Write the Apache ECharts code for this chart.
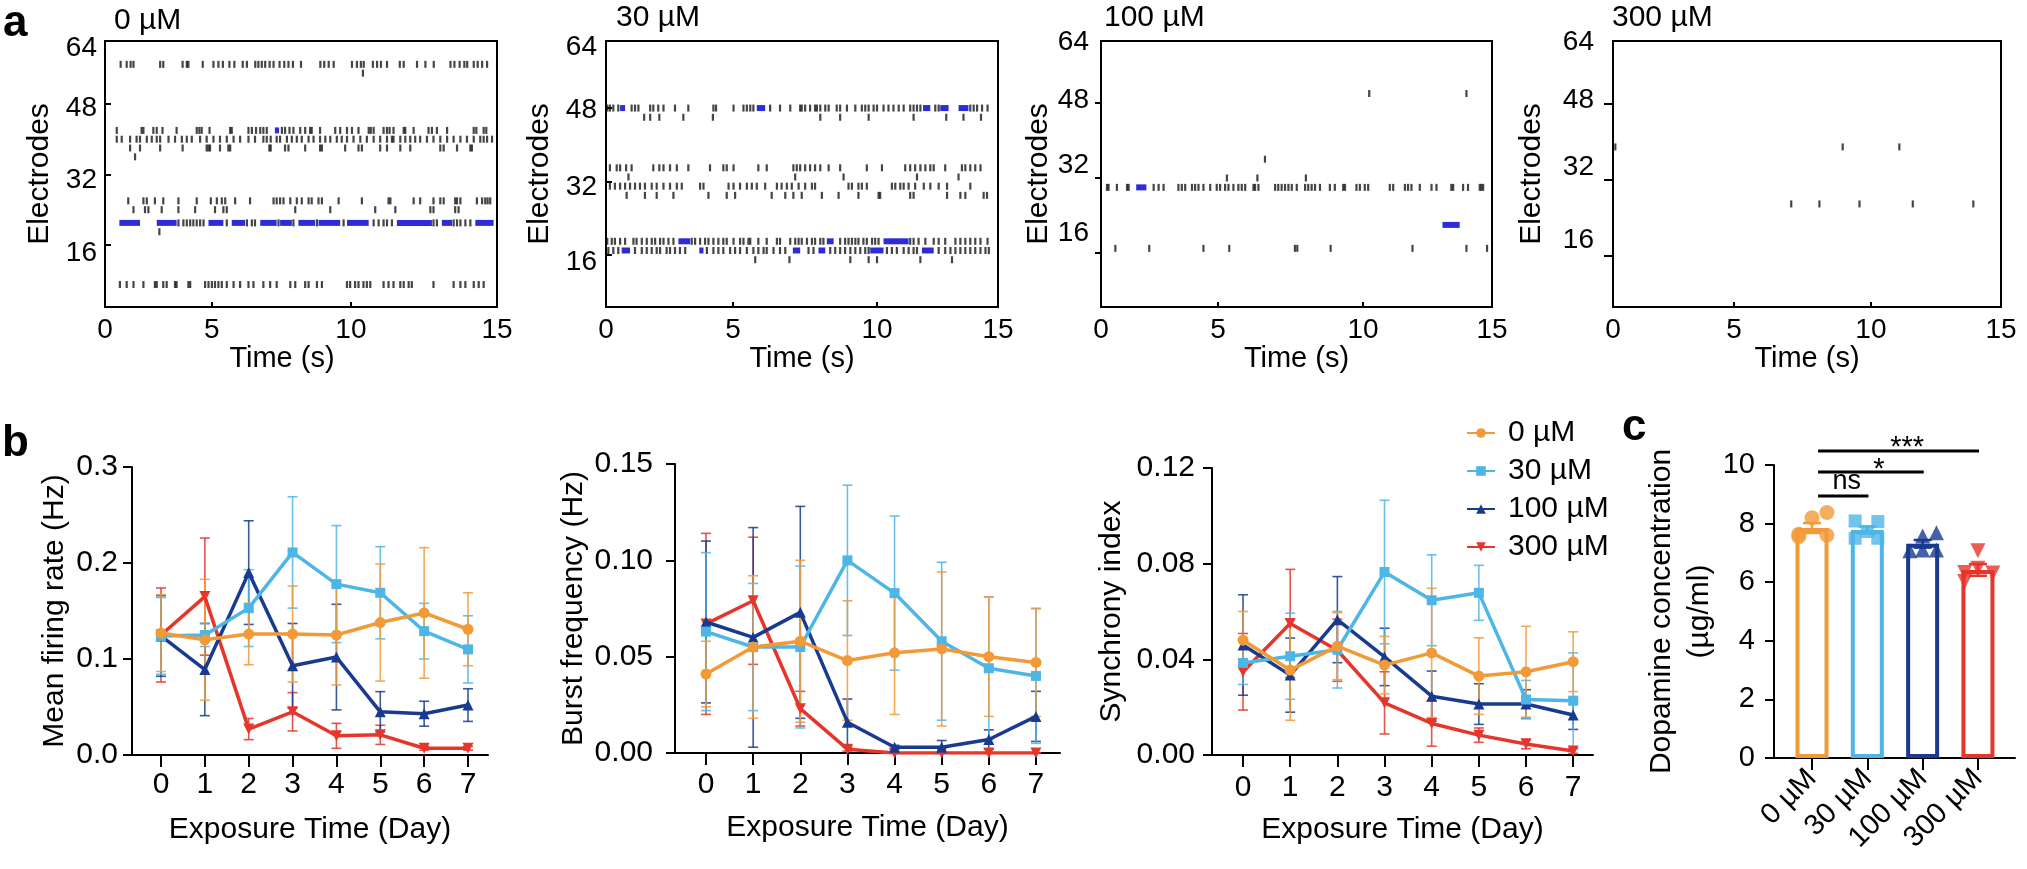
<!DOCTYPE html>
<html><head><meta charset="utf-8">
<script src="https://cdn.jsdelivr.net/npm/echarts@6/dist/echarts.min.js"></script>
<style>html,body{margin:0;padding:0;background:#fff}#c{width:2027px;height:869px}</style>
</head><body><div id="c"></div>
<script>
// ---------------- DATA ----------------
const groups = ['0 µM', '30 µM', '100 µM', '300 µM'];
const days = [0, 1, 2, 3, 4, 5, 6, 7];
const rasterTimeLabels = ['0', '5', '10', '15'];
const electrodeTicks = [16, 32, 48];
const electrodeTickLabels = ['16', '32', '48', '64'];

// Panel a: spike times (s) per electrode row; bursts as [start, end]
// 0 µM
const a0_e57 = [0.60,0.83,0.98,1.09,2.11,2.23,2.97,3.13,3.19,3.74,4.15,4.34,4.51,4.76,4.95,5.27,5.43,5.75,5.87,6.00,6.13,6.30,6.45,6.68,6.86,7.02,7.19,7.50,8.24,8.39,8.56,8.75,9.45,9.64,9.79,9.90,10.25,10.41,10.56,10.79,11.28,11.43,11.94,12.26,12.58,13.22,13.37,13.57,13.75,13.86,14.11,14.26,14.43,14.62];
const a0_e55 = [9.87];
const a0_e42 = [0.45,1.40,1.47,1.85,1.98,2.20,2.74,3.51,3.61,3.70,4.00,4.79,4.85,5.49,5.62,5.78,5.94,6.06,6.19,6.77,6.89,7.06,7.21,7.47,7.66,7.85,7.91,8.23,8.81,9.00,9.26,9.45,9.70,10.09,10.17,10.28,10.66,10.79,10.89,11.04,11.43,11.49,11.81,12.38,12.51,12.70,13.09,14.11,14.21,14.49,14.59];
const a0_e42_burst = [[6.50, 6.66]];
const a0_e40 = [0.45,0.64,0.96,1.21,1.34,1.60,1.79,1.98,2.11,2.43,2.68,2.94,3.13,3.32,3.64,3.89,4.15,4.40,4.66,4.92,5.17,5.49,5.74,6.06,6.19,6.34,6.57,6.70,6.96,7.15,7.34,7.53,7.79,7.98,8.23,8.43,8.62,8.87,9.06,9.26,9.51,9.77,10.02,10.28,10.53,10.79,10.98,11.04,11.30,11.49,11.68,11.87,12.06,12.32,12.57,12.83,13.09,13.34,13.60,13.85,14.11,14.36,14.49,14.62,14.81];
const a0_e38 = [0.96,1.34,2.11,2.97,3.89,3.96,4.02,4.40,4.72,4.79,6.29,6.34,6.89,7.02,7.66,8.23,8.30,9.19,9.70,9.83,10.53,10.79,11.30,11.68,12.83,12.96,13.47,13.98,14.04];
const a0_e36 = [1.15];
const a0_e26 = [0.89,1.47,1.60,1.91,2.23,2.81,3.51,4.05,4.28,4.47,4.60,4.98,5.55,6.45,6.57,6.70,6.83,7.09,7.34,7.53,7.79,7.91,8.17,8.30,8.94,9.83,10.85,10.92,11.81,12.06,12.57,12.83,12.96,13.40,13.47,13.60,14.23,14.43,14.55,14.64,14.74];
const a0_e24 = [1.09,1.53,1.66,2.17,2.81,3.45,4.21,4.53,4.66,7.28,8.62,10.34,11.11,12.45,12.57,13.40,13.53];
const a0_e21 = [2.81,3.00,3.13,3.26,3.38,3.51,3.64,3.77,4.66,5.43,5.62,5.74,6.64,7.21,8.11,9.13,10.28,10.47,10.66,10.79,10.98,12.57,12.70,13.34,13.47,13.60,13.79,13.98];
const a0_e21_burst = [[0.55,1.34],[1.98,2.74],[3.96,4.53],[4.85,5.36],[5.94,6.57],[6.70,7.15],[7.40,8.04],[8.17,9.00],[9.26,10.09],[11.17,12.51],[12.89,13.28],[14.17,14.87]];
const a0_e19 = [2.08];
const a0_e7 = [0.57,0.83,1.09,1.47,1.91,1.98,2.23,2.36,2.68,2.74,3.19,3.26,3.83,3.96,4.09,4.21,4.34,4.47,4.66,4.92,5.17,5.49,5.68,6.06,6.32,6.57,7.09,7.28,7.66,7.79,8.11,8.30,9.26,9.38,9.57,9.70,9.89,10.02,10.15,10.66,10.85,11.04,11.30,11.43,11.62,11.74,12.57,13.34,13.60,13.79,14.11,14.30,14.49];

// 30 µM
const a1_e48 = [0.05,0.15,0.28,0.47,0.98,1.11,1.24,1.69,1.81,2.00,2.20,2.64,3.15,4.11,4.21,4.88,5.26,5.39,5.52,5.64,6.28,6.66,7.05,7.43,7.49,7.62,7.81,8.00,8.07,8.20,8.39,8.52,8.83,8.96,9.22,9.54,9.79,9.92,10.05,10.24,10.37,10.62,10.81,11.00,11.20,11.39,11.64,11.77,11.90,12.03,12.60,12.73,13.94,14.07,14.20,14.39,14.60];
const a1_e48_burst = [[0.54,0.73],[5.77,6.09],[12.13,12.41],[12.79,13.11],[13.49,13.87]];
const a1_e46 = [1.46,1.69,2.04,2.96,4.09,8.20,8.96,10.05,11.77,13.02,13.68,14.35];
const a1_e35 = [0.15,0.41,0.54,0.77,0.98,1.81,2.04,2.20,2.45,2.71,3.15,3.98,4.49,4.62,4.88,5.83,6.15,7.17,7.30,7.43,7.62,7.81,8.00,8.20,8.52,8.96,9.98,10.56,11.45,11.64,11.83,12.03,12.22,12.41,12.54,12.98,13.62,13.75,13.94,14.13,14.33];
const a1_e33 = [0.86,7.24,9.09,11.90,13.49];
const a1_e31 = [0.15,0.34,0.54,0.73,0.92,1.11,1.30,1.49,1.75,1.94,2.20,2.45,2.71,2.90,3.60,3.73,4.69,4.88,5.13,5.39,5.58,5.77,6.09,6.54,6.72,6.92,7.11,7.37,7.62,7.88,8.00,9.28,9.41,9.66,9.79,9.98,10.94,11.07,11.26,11.39,11.58,11.83,12.16,12.41,12.73,13.05,13.94];
const a1_e29 = [0.79,1.49,1.94,2.58,3.92,4.62,4.94,6.34,6.86,7.17,7.49,8.26,8.90,9.66,10.43,10.49,11.64,11.77,13.05,13.56,13.75,14.45,14.58];
const a1_e19 = [0.05,0.22,0.34,0.54,0.73,1.05,1.17,1.37,1.56,1.75,1.88,2.07,2.20,2.39,2.58,3.28,3.41,3.60,3.79,3.92,4.11,4.30,4.49,4.62,4.88,5.13,5.26,5.45,5.52,5.83,6.15,6.54,6.66,7.05,7.24,7.37,7.49,7.69,7.88,8.00,8.20,8.32,8.96,9.15,9.28,9.41,9.54,9.66,9.85,9.98,10.18,10.30,10.43,11.64,11.77,11.96,12.22,12.54,12.73,12.98,13.37,13.56,13.75,13.94,14.13,14.33,14.60];
const a1_e19_burst = [[2.77,3.22],[8.45,8.71],[10.62,11.58]];
const a1_e17 = [0.09,0.28,0.47,1.11,1.37,1.56,1.75,1.94,2.07,2.32,2.45,2.64,2.83,3.03,3.86,4.11,4.30,4.49,4.75,4.94,5.13,5.39,5.64,5.83,6.03,6.15,6.41,6.66,6.86,7.75,7.94,8.58,8.77,8.96,9.15,9.35,9.54,9.73,9.92,10.05,10.75,10.94,11.13,11.39,11.58,11.77,11.90,12.73,12.98,13.18,13.37,13.56,13.75,13.94,14.13,14.33,14.52,14.65];
const a1_e17_burst = [[0.60,0.92],[3.57,3.73],[7.15,7.43],[8.13,8.39],[10.11,10.62],[12.09,12.54]];
const a1_e15 = [5.71,7.02,9.35,10.05,10.37,12.03,13.24];

// 100 µM
const a2_e50 = [10.29,14.02];
const a2_e36 = [6.29];
const a2_e32 = [4.83,6.00,7.86];
const a2_e30 = [0.23,0.29,0.61,1.00,1.06,2.02,2.21,2.40,2.97,3.10,3.23,3.49,3.61,3.74,3.93,4.19,4.44,4.57,4.76,4.89,5.08,5.27,5.40,5.53,5.85,5.91,6.04,6.68,6.80,6.93,7.06,7.19,7.32,7.51,7.83,7.95,8.08,8.21,8.40,8.78,8.97,9.29,9.36,9.80,9.93,10.12,10.25,11.08,11.21,11.66,11.78,11.91,12.23,12.68,12.87,13.44,13.51,13.89,14.08,14.53,14.59,14.66];
const a2_e30_burst = [[1.35,1.74]];
const a2_e22_burst = [[13.10,13.76]];
const a2_e17 = [0.55,1.85,3.93,4.92,7.44,7.53,8.81,11.95,14.02,14.81];

// 300 µM
const a3_e39 = [0.09,8.88,11.07];
const a3_e27 = [6.89,7.98,9.53,11.59,13.93];

// Panel b: mean ± SEM per group per day
const mfr_0 = [0.127,0.120,0.126,0.126,0.125,0.138,0.148,0.131];
const mfr_0_sem = [0.040,0.063,0.032,0.050,0.052,0.061,0.068,0.038];
const mfr_30 = [0.124,0.125,0.153,0.211,0.178,0.169,0.129,0.110];
const mfr_30_sem = [0.040,0.012,0.040,0.058,0.061,0.048,0.029,0.035];
const mfr_100 = [0.124,0.089,0.190,0.093,0.102,0.045,0.043,0.052];
const mfr_100_sem = [0.042,0.048,0.054,0.044,0.055,0.021,0.013,0.017];
const mfr_300 = [0.125,0.165,0.027,0.045,0.020,0.021,0.007,0.007];
const mfr_300_sem = [0.049,0.061,0.011,0.020,0.013,0.010,0.002,0.002];

const bf_0 = [0.041,0.055,0.058,0.048,0.052,0.054,0.050,0.047];
const bf_0_sem = [0.017,0.037,0.042,0.031,0.032,0.040,0.031,0.028];
const bf_30 = [0.063,0.055,0.055,0.100,0.083,0.058,0.044,0.040];
const bf_30_sem = [0.041,0.033,0.042,0.039,0.040,0.041,0.037,0.035];
const bf_100 = [0.068,0.060,0.073,0.016,0.003,0.003,0.007,0.019];
const bf_100_sem = [0.042,0.057,0.055,0.012,0.001,0.0035,0.005,0.013];
const bf_300 = [0.067,0.079,0.023,0.002,0.000,0.000,0.000,0.000];
const bf_300_sem = [0.047,0.033,0.009,0.001,0,0,0,0];

const si_0 = [0.048,0.0355,0.0455,0.0376,0.0427,0.033,0.0348,0.039];
const si_0_sem = [0.012,0.021,0.014,0.012,0.027,0.016,0.019,0.0125];
const si_30 = [0.0385,0.0413,0.044,0.0765,0.0647,0.0678,0.0232,0.0227];
const si_30_sem = [0.009,0.018,0.016,0.030,0.019,0.0115,0.008,0.020];
const si_100 = [0.046,0.0334,0.0566,0.041,0.0246,0.0213,0.0213,0.0167];
const si_100_sem = [0.021,0.0155,0.018,0.012,0.0105,0.0085,0.006,0.006];
const si_300 = [0.0348,0.055,0.0438,0.0218,0.0132,0.0083,0.0046,0.0017];
const si_300_sem = [0.016,0.0226,0.013,0.013,0.0095,0.003,0.002,0.001];

// Panel c: dopamine concentration (µg/ml)
const dopa_mean = [7.85, 7.78, 7.31, 6.42];
const dopa_sem = [0.17, 0.12, 0.13, 0.20];
const dopa_0 = [8.38, 8.20, 7.64, 7.60, 7.55];
const dopa_30 = [8.09, 8.07, 7.50, 7.50, 7.73];
const dopa_100 = [7.69, 7.58, 7.07, 7.10, 7.10];
const dopa_300 = [7.07, 6.33, 6.48, 6.31, 6.02];
const sigPairs = [[0, 1, 'ns'], [0, 2, '*'], [0, 3, '***']];

// ---------------- STYLE / LAYOUT ----------------
const FONT = 'Liberation Sans, Arial, Helvetica, sans-serif';
const colors = ['#F29A37', '#4DB6E7', '#183B8F', '#E6352B'];
const symbols = ['circle', 'rect', 'triangle', 'triangle'];
const symRot = [0, 0, 0, 180];
const symSize = [11, 10, 11, 11];
const spikeColor = '#161616';
const burstColor = '#2d2dd8';

const rasterGrids = [
  {left: 105, top: 41, width: 392, height: 266, ymin: 1.9, ymax: 62.3, lab: [14.2, 30.75, 47.1, 60.7], xlab: [0, 4.09, 9.41, 15], namePad: 38, tickIn: true, tickLen: 6, lmargin: 8, nameGap: 50},
  {left: 606, top: 41, width: 392, height: 266, ymin: 4.7, ymax: 62.6, lab: [14.4, 30.8, 47.6, 61.3], xlab: [0, 4.86, 10.37, 15], namePad: 0, tickIn: true, tickLen: 6, lmargin: 9, nameGap: 51},
  {left: 1101, top: 41, width: 391, height: 266, ymin: 4.5, ymax: 61.2, lab: [20.3, 34.8, 48.6, 61.0], xlab: [0, 4.49, 10.05, 15], namePad: 0, tickIn: false, tickLen: 6, lmargin: 12, nameGap: 36},
  {left: 1613, top: 41, width: 388, height: 266, ymin: 5.3, ymax: 61.3, lab: [19.4, 34.7, 48.8, 61.1], xlab: [0, 4.68, 9.97, 15], namePad: 0, tickIn: false, tickLen: 9, lmargin: 19, nameGap: 66}
];
const rasterTitlePos = [[114, 21], [616, 18], [1104, 18], [1612, 18]];
const jitter = [[0.27, 0, -0.24, 0.27, -0.24], [-0.22, 0.19, -0.22, 0.19, 0], [0.25, 0, -0.23, 0, 0.25], [0, -0.24, 0, 0.27, -0.24]];
const sigLevels = [8.94, 9.76, 10.48];
const sigStartOffset = 0.11;
const sigLabelX = [0.63, 1.21, 1.72];

const rasterRows = [
  [[57, a0_e57], [55, a0_e55], [42, a0_e42, a0_e42_burst], [40, a0_e40], [38, a0_e38], [36, a0_e36], [26, a0_e26], [24, a0_e24], [21, a0_e21, a0_e21_burst], [19, a0_e19], [7, a0_e7]],
  [[48, a1_e48, a1_e48_burst], [46, a1_e46], [35, a1_e35], [33, a1_e33], [31, a1_e31], [29, a1_e29], [19, a1_e19, a1_e19_burst], [17, a1_e17, a1_e17_burst], [15, a1_e15]],
  [[50, a2_e50], [36, a2_e36], [32, a2_e32], [30, a2_e30, a2_e30_burst], [22, [], a2_e22_burst], [17, a2_e17]],
  [[39, a3_e39], [27, a3_e27]]
];

const bPanels = [
  {left: 132, top: 467, width: 356, height: 288, xmin: -0.661, xmax: 7.456, ymax: 0.3, interval: 0.1, dec: 1, name: 'Mean firing rate (Hz)', nameGap: 62, lmargin: 14, xmargin: 15,
   vals: [mfr_0, mfr_30, mfr_100, mfr_300], sems: [mfr_0_sem, mfr_30_sem, mfr_100_sem, mfr_300_sem]},
  {left: 675, top: 464, width: 385, height: 289, xmin: -0.658, xmax: 7.51, ymax: 0.15, interval: 0.05, dec: 2, name: 'Burst frequency (Hz)', nameGap: 86, lmargin: 22, xmargin: 17,
   vals: [bf_0, bf_30, bf_100, bf_300], sems: [bf_0_sem, bf_30_sem, bf_100_sem, bf_300_sem]},
  {left: 1212, top: 468, width: 381, height: 287, xmin: -0.658, xmax: 7.42, ymax: 0.12, interval: 0.04, dec: 2, name: 'Synchrony index', nameGap: 85, lmargin: 17, xmargin: 18,
   vals: [si_0, si_30, si_100, si_300], sems: [si_0_sem, si_30_sem, si_100_sem, si_300_sem]}
];
const cGrid = {left: 1774, top: 465, width: 241, height: 293, xmin: -0.687, xmax: 3.67};

// ---------------- BUILD ----------------
const grid = [], xAxis = [], yAxis = [], series = [], graphic = [];
const blackLine = {onZero: false, lineStyle: {color: '#000', width: 2}};
function nearestIdx(list, v) { let k = 0, d = 1e9; list.forEach((L, i) => { if (Math.abs(L - v) < d) { d = Math.abs(L - v); k = i; } }); return k; }

rasterGrids.forEach((g, p) => {
  grid.push({left: g.left, top: g.top, width: g.width, height: g.height, show: true, borderColor: '#000', borderWidth: 2, backgroundColor: '#fff', containLabel: false});
  xAxis.push({gridIndex: p, type: 'value', min: 0, max: 15,
    axisLine: {show: false, onZero: false}, splitLine: {show: false},
    axisTick: {inside: true, length: 5, customValues: g.xlab, lineStyle: {color: '#000', width: 2}},
    axisLabel: {color: '#000', fontSize: 28, fontFamily: FONT, margin: 9, customValues: g.xlab,
      formatter: v => rasterTimeLabels[nearestIdx(g.xlab, v)]},
    name: 'Time (s)', nameLocation: 'middle', nameGap: 36,
    nameTextStyle: {color: '#000', fontSize: 29, fontFamily: FONT, padding: [0, g.namePad, 0, 0]}});
  yAxis.push({gridIndex: p, type: 'value', min: g.ymin, max: g.ymax,
    axisLine: {show: false, onZero: false}, splitLine: {show: false},
    axisTick: {show: true, inside: g.tickIn, length: g.tickLen, customValues: electrodeTicks, lineStyle: {color: '#000', width: 2}},
    axisLabel: {color: '#000', fontSize: 28, fontFamily: FONT, margin: g.lmargin, customValues: g.lab,
      formatter: v => electrodeTickLabels[nearestIdx(g.lab, v)]},
    name: 'Electrodes', nameLocation: 'middle', nameGap: g.nameGap,
    nameTextStyle: {color: '#000', fontSize: 30, fontFamily: FONT}});
  const pts = [], bursts = [];
  rasterRows[p].forEach(([e, sp, bu]) => {
    sp.forEach(t => pts.push([t, e]));
    (bu || []).forEach(b => bursts.push([b[0], b[1], e]));
  });
  series.push({type: 'scatter', xAxisIndex: p, yAxisIndex: p, data: pts, symbol: 'rect', symbolSize: [2.2, 7],
    itemStyle: {color: spikeColor}, silent: true, z: 3, animation: false});
  series.push({type: 'custom', xAxisIndex: p, yAxisIndex: p, data: bursts, encode: {x: [0, 1], y: 2}, z: 4, silent: true,
    renderItem: (params, api) => {
      const s = api.coord([api.value(0), api.value(2)]);
      const e = api.coord([api.value(1), api.value(2)]);
      return {type: 'rect', shape: {x: s[0], y: s[1] - 3, width: Math.max(2, e[0] - s[0]), height: 6}, style: {fill: burstColor}};
    }});
  graphic.push({type: 'text', x: rasterTitlePos[p][0], y: rasterTitlePos[p][1],
    style: {text: groups[p], font: '30px ' + FONT, fill: '#000', verticalAlign: 'middle', align: 'left'}});
});

function errRenderer(cap, lw) {
  return function (params, api) {
    const x = api.value(0), y = api.value(1), e = api.value(2);
    const hi = api.coord([x, y + e]);
    const lo = api.coord([x, Math.max(0, y - e)]);
    const c = api.visual('color');
    const st = {stroke: c, lineWidth: lw, opacity: 0.85};
    return {type: 'group', children: [
      {type: 'line', shape: {x1: hi[0], y1: hi[1], x2: lo[0], y2: lo[1]}, style: st},
      {type: 'line', shape: {x1: hi[0] - cap, y1: hi[1], x2: hi[0] + cap, y2: hi[1]}, style: st},
      {type: 'line', shape: {x1: lo[0] - cap, y1: lo[1], x2: lo[0] + cap, y2: lo[1]}, style: st}
    ]};
  };
}

bPanels.forEach((b, j) => {
  const p = 4 + j;
  grid.push({left: b.left, top: b.top, width: b.width, height: b.height, containLabel: false});
  xAxis.push({gridIndex: p, type: 'value', min: b.xmin, max: b.xmax,
    axisLine: blackLine, splitLine: {show: false},
    axisTick: {length: 12, customValues: days, lineStyle: {color: '#000', width: 2}},
    axisLabel: {customValues: days, color: '#000', fontSize: 30, fontFamily: FONT, margin: b.xmargin},
    name: 'Exposure Time (Day)', nameLocation: 'middle', nameGap: 60,
    nameTextStyle: {color: '#000', fontSize: 30, fontFamily: FONT}});
  yAxis.push({gridIndex: p, type: 'value', min: 0, max: b.ymax, interval: b.interval,
    axisLine: {show: true, onZero: false, lineStyle: {color: '#000', width: 2}}, splitLine: {show: false},
    axisTick: {show: true, length: 9, lineStyle: {color: '#000', width: 2}},
    axisLabel: {color: '#000', fontSize: 30, fontFamily: FONT, margin: b.lmargin, formatter: v => v.toFixed(b.dec)},
    name: b.name, nameLocation: 'middle', nameGap: b.nameGap,
    nameTextStyle: {color: '#000', fontSize: 30, fontFamily: FONT}});
  [3, 2, 1, 0].forEach(g => {
    series.push({type: 'line', name: groups[g], xAxisIndex: p, yAxisIndex: p,
      data: days.map((d, i) => [d, b.vals[g][i]]),
      symbol: symbols[g], symbolRotate: symRot[g], symbolSize: symSize[g], showAllSymbol: true,
      lineStyle: {color: colors[g], width: 3.5}, itemStyle: {color: colors[g]}, z: 5 + (3 - g) * 0.1, animation: false});
  });
  [3, 2, 1, 0].forEach(g => {
    series.push({type: 'custom', name: groups[g] + ' sem', xAxisIndex: p, yAxisIndex: p,
      data: days.map((d, i) => [d, b.vals[g][i], b.sems[g][i]]), encode: {x: 0, y: 1},
      itemStyle: {color: colors[g]}, renderItem: errRenderer(5, 1.6), z: 2, silent: true});
  });
});

// Panel c
const pc = 7;
grid.push({left: cGrid.left, top: cGrid.top, width: cGrid.width, height: cGrid.height, containLabel: false});
xAxis.push({gridIndex: pc, type: 'value', min: cGrid.xmin, max: cGrid.xmax,
  axisLine: blackLine, splitLine: {show: false},
  axisTick: {length: 12, customValues: [0, 1, 2, 3], lineStyle: {color: '#000', width: 2}},
  axisLabel: {customValues: [0, 1, 2, 3], rotate: 45, color: '#000', fontSize: 29, fontFamily: FONT, margin: 16,
    formatter: v => groups[Math.round(v)]}});
yAxis.push({gridIndex: pc, type: 'value', min: 0, max: 10, interval: 2,
  axisLine: {show: true, onZero: false, lineStyle: {color: '#000', width: 2}}, splitLine: {show: false},
  axisTick: {show: true, length: 9, lineStyle: {color: '#000', width: 2}},
  axisLabel: {color: '#000', fontSize: 29, fontFamily: FONT, margin: 19},
  name: 'Dopamine concentration\n(µg/ml)', nameLocation: 'middle', nameGap: 50,
  nameTextStyle: {color: '#000', fontSize: 30, lineHeight: 38, fontFamily: FONT, align: 'center'}});
series.push({type: 'bar', xAxisIndex: pc, yAxisIndex: pc, barWidth: 33, z: 2, animation: false,
  data: dopa_mean.map((m, i) => ({value: [i, m], itemStyle: {color: '#fff', borderColor: colors[i], borderWidth: 4}}))});
series.push({type: 'custom', xAxisIndex: pc, yAxisIndex: pc, z: 4, silent: true,
  data: dopa_mean.map((m, i) => [i, m, dopa_sem[i], i]), encode: {x: 0, y: 1},
  renderItem: (params, api) => {
    const x = api.value(0), y = api.value(1), e = api.value(2), c = colors[api.value(3)];
    const hi = api.coord([x, y + e]), lo = api.coord([x, y - e]);
    const st = {stroke: c, lineWidth: 2.5};
    return {type: 'group', children: [
      {type: 'line', shape: {x1: hi[0], y1: hi[1], x2: lo[0], y2: lo[1]}, style: st},
      {type: 'line', shape: {x1: hi[0] - 9, y1: hi[1], x2: hi[0] + 9, y2: hi[1]}, style: st},
      {type: 'line', shape: {x1: lo[0] - 9, y1: lo[1], x2: lo[0] + 9, y2: lo[1]}, style: st}
    ]};
  }});
[dopa_0, dopa_30, dopa_100, dopa_300].forEach((arr, g) => {
  series.push({type: 'scatter', xAxisIndex: pc, yAxisIndex: pc, z: 5, animation: false,
    data: arr.map((v, k) => [g + jitter[g][k], v]),
    symbol: symbols[g], symbolRotate: symRot[g], symbolSize: g === 1 ? 13 : 15,
    itemStyle: {color: colors[g]}});
});

// panel letters
graphic.push({type: 'text', x: 3, y: 24, style: {text: 'a', font: 'bold 44px ' + FONT, fill: '#000', verticalAlign: 'middle'}});
graphic.push({type: 'text', x: 2, y: 444, style: {text: 'b', font: 'bold 44px ' + FONT, fill: '#000', verticalAlign: 'middle'}});
graphic.push({type: 'text', x: 1622, y: 428, style: {text: 'c', font: 'bold 44px ' + FONT, fill: '#000', verticalAlign: 'middle'}});

const chart = echarts.init(document.getElementById('c'), null, {renderer: 'canvas'});
chart.setOption({
  animation: false,
  backgroundColor: '#fff',
  textStyle: {fontFamily: FONT},
  grid, xAxis, yAxis, series, graphic,
  legend: {data: groups, orient: 'vertical', left: 1461, top: 413, itemWidth: 28, itemHeight: 12, itemGap: 8,
    textStyle: {color: '#000', fontSize: 30, fontFamily: FONT, padding: [0, 0, 0, 8]}}
});

// significance brackets: positions come from the panel-c axes via convertToPixel
const sigGraphics = [];
sigPairs.forEach((s, i) => {
  const a = chart.convertToPixel({xAxisIndex: pc, yAxisIndex: pc}, [s[0] + sigStartOffset, sigLevels[i]]);
  const b = chart.convertToPixel({xAxisIndex: pc, yAxisIndex: pc}, [s[1] + 0.02, sigLevels[i]]);
  const t = chart.convertToPixel({xAxisIndex: pc, yAxisIndex: pc}, [sigLabelX[i], sigLevels[i]]);
  sigGraphics.push({type: 'line', id: 'sigl' + i, shape: {x1: a[0], y1: a[1], x2: b[0], y2: b[1]}, style: {stroke: '#000', lineWidth: 3}, z: 100});
  const isNs = s[2] === 'ns';
  sigGraphics.push({type: 'text', id: 'sigt' + i, x: t[0], y: t[1] - (isNs ? 1 : -12), z: 100,
    style: {text: s[2], font: (isNs ? '27px ' : '29px ') + FONT, fill: '#000', align: 'center', verticalAlign: 'bottom'}});
});
chart.setOption({graphic: graphic.concat(sigGraphics)});
</script></body></html>
